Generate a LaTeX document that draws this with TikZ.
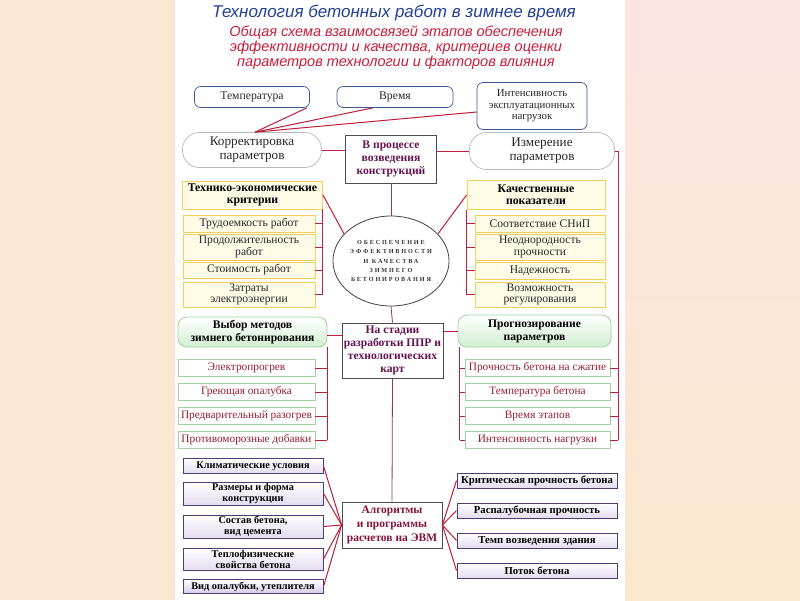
\documentclass[tikz,border=0pt]{standalone}
\usepackage{fontspec}
\setmainfont{Liberation Serif}
\newfontfamily\titlefont{Liberation Sans}
\usetikzlibrary{shapes.geometric,calc}
\definecolor{bgleft}{RGB}{250,231,210}
\definecolor{bgrtop}{RGB}{252,228,226}
\definecolor{bgrbot}{RGB}{250,231,205}
\definecolor{titleblue}{RGB}{35,65,150}
\definecolor{subred}{RGB}{200,30,60}
\definecolor{redline}{RGB}{190,30,60}
\definecolor{midline}{RGB}{140,60,90}
\definecolor{topblue}{RGB}{60,90,155}
\definecolor{hubtext}{RGB}{100,20,80}
\definecolor{algtext}{RGB}{135,20,60}
\definecolor{itemred}{RGB}{150,30,50}
\definecolor{yelborder}{RGB}{238,208,90}
\definecolor{yelfill}{RGB}{255,251,230}
\definecolor{grborder}{RGB}{160,210,160}
\definecolor{grfill}{RGB}{210,238,210}
\definecolor{lavborder}{RGB}{80,60,110}
\definecolor{lavfill}{RGB}{228,220,240}
\definecolor{txt}{RGB}{40,40,40}
\tikzset{
  base/.style={inner sep=0pt, align=center, text=txt, font=\fontsize{11}{12.5}\selectfont},
  topbox/.style={base, draw=topblue, rounded corners=6pt, fill=white, line width=0.7pt, font=\fontsize{11.7}{11.7}\selectfont},
  stadium/.style={base, draw=gray!55, rounded corners=17pt, fill=white, line width=0.7pt, font=\fontsize{13.2}{14}\selectfont},
  hub/.style={base, draw=black!70, fill=white, line width=0.8pt, text=hubtext, font=\bfseries\fontsize{11.6}{13}\selectfont},
  yelhead/.style={base, draw=yelborder, fill=yelfill, line width=0.9pt, text=black, font=\bfseries\fontsize{11.8}{12}\selectfont},
  yelitem/.style={base, draw=yelborder, fill=yelfill, line width=0.9pt, font=\fontsize{11.6}{11.5}\selectfont},
  greenhead/.style={base, draw=grborder, rounded corners=9pt, top color=white, bottom color=grfill, line width=0.8pt, text=black, font=\bfseries\fontsize{11.6}{13}\selectfont},
  greenitem/.style={base, draw=grborder, fill=white, line width=0.8pt, text=itemred, font=\fontsize{11.3}{12}\selectfont},
  lavbox/.style={base, draw=lavborder, top color=white, bottom color=lavfill, line width=1pt, text=black, font=\bfseries\fontsize{10.3}{11}\selectfont},
  link/.style={draw=redline, line width=1pt},
  midlink/.style={draw=midline, line width=0.8pt},
}
\begin{document}
\begin{tikzpicture}[x=1pt,y=-1pt]
\useasboundingbox (0,0) rectangle (800,600);
\fill[bgleft] (0,0) rectangle (175,600);
\fill[white] (175,0) rectangle (625,600);
\shade[top color=bgrtop, bottom color=bgrbot] (625,0) rectangle (800,600);

% titles
\node[inner sep=0pt, text=titleblue, font=\titlefont\itshape\fontsize{17}{17}\selectfont] (title) at (394,13) {Технология бетонных работ в зимнее время};
\node[inner sep=0pt, align=center, text=subred, font=\titlefont\itshape\fontsize{14.5}{15}\selectfont] (sub) at (396,48) {Общая схема взаимосвязей этапов обеспечения\\эффективности и качества, критериев оценки\\параметров технологии и факторов влияния};

% top factors
\node[topbox, minimum width=115pt, minimum height=21pt] (temp) at (252,97) {Температура};
\node[topbox, minimum width=116pt, minimum height=21pt] (vrem) at (395,97) {Время};
\node[topbox, minimum width=110pt, minimum height=47pt, font=\fontsize{10.8}{11.5}\selectfont] (intens) at (532,106) {Интенсивность\\эксплуатационных\\нагрузок};

% second row
\node[stadium, minimum width=139pt, minimum height=35pt] (korr) at (252,150) {Корректировка\\параметров};
\node[hub, minimum width=91pt, minimum height=48pt] (proc) at (391,159) {В процессе\\возведения\\конструкций};
\node[stadium, minimum width=145pt, minimum height=37pt] (izm) at (542,151) {Измерение\\параметров};

% central ellipse
\node[ellipse, draw=black!75, line width=0.8pt, fill=white, minimum width=106pt, minimum height=90pt, inner sep=0pt, align=center, text=black!80, font=\bfseries\fontsize{6.2}{9.3}\selectfont\addfontfeature{LetterSpace=30}] (ell) at (391,261) {ОБЕСПЕЧЕНИЕ\\ЭФФЕКТИВНОСТИ\\И КАЧЕСТВА\\ЗИМНЕГО\\БЕТОНИРОВАНИЯ};

% left yellow
\node[yelhead, minimum width=140pt, minimum height=28pt] (tech) at (252.5,195) {Технико-экономические\\критерии};
\node[yelitem, minimum width=132pt, minimum height=17pt] (t1) at (249,223.5) {Трудоемкость работ};
\node[yelitem, minimum width=132pt, minimum height=26pt] (t2) at (249,247) {Продолжительность\\работ};
\node[yelitem, minimum width=132pt, minimum height=16pt] (t3) at (249,270) {Стоимость работ};
\node[yelitem, minimum width=132pt, minimum height=25pt] (t4) at (249,294.5) {Затраты\\электроэнергии};

% right yellow
\node[yelhead, minimum width=138pt, minimum height=29pt] (kach) at (536,195) {Качественные\\показатели};
\node[yelitem, minimum width=130pt, minimum height=17pt] (k1) at (540,223.5) {Соответствие СНиП};
\node[yelitem, minimum width=130pt, minimum height=26pt] (k2) at (540,247) {Неоднородность\\прочности};
\node[yelitem, minimum width=130pt, minimum height=17pt] (k3) at (540,270.5) {Надежность};
\node[yelitem, minimum width=130pt, minimum height=25pt] (k4) at (540,294.5) {Возможность\\регулирования};

% stage
\node[hub, minimum width=101pt, minimum height=55pt] (stage) at (392.5,350.5) {На стадии\\разработки ППР и\\технологических\\карт};

% left green
\node[greenhead, minimum width=149pt, minimum height=30pt] (vybor) at (252.5,332) {Выбор методов\\зимнего бетонирования};
\node[greenitem, minimum width=137pt, minimum height=17pt] (v1) at (246.5,368) {Электропрогрев};
\node[greenitem, minimum width=137pt, minimum height=17pt] (v2) at (246.5,392) {Греющая опалубка};
\node[greenitem, minimum width=137pt, minimum height=17pt] (v3) at (246.5,416) {Предварительный разогрев};
\node[greenitem, minimum width=137pt, minimum height=17pt] (v4) at (246.5,440) {Противоморозные добавки};

% right green
\node[greenhead, minimum width=153pt, minimum height=32pt] (prog) at (534.5,331) {Прогнозирование\\параметров};
\node[greenitem, minimum width=145pt, minimum height=17pt] (p1) at (537.5,368) {Прочность бетона на сжатие};
\node[greenitem, minimum width=145pt, minimum height=17pt] (p2) at (537.5,392) {Температура бетона};
\node[greenitem, minimum width=145pt, minimum height=17pt] (p3) at (537.5,416) {Время этапов};
\node[greenitem, minimum width=145pt, minimum height=17pt] (p4) at (537.5,440) {Интенсивность нагрузки};

% algorithms
\node[hub, minimum width=100pt, minimum height=46pt, text=algtext, font=\bfseries\fontsize{11.5}{14}\selectfont] (alg) at (392,525) {Алгоритмы\\и программы\\расчетов на ЭВМ};

% bottom left
\node[lavbox, minimum width=140pt, minimum height=15pt] (b1) at (253,466) {Климатические условия};
\node[lavbox, minimum width=140pt, minimum height=23pt] (b2) at (253,493.5) {Размеры и форма\\конструкции};
\node[lavbox, minimum width=140pt, minimum height=23pt] (b3) at (253,526.5) {Состав бетона,\\вид цемента};
\node[lavbox, minimum width=140pt, minimum height=22pt] (b4) at (253,559) {Теплофизические\\свойства бетона};
\node[lavbox, minimum width=140pt, minimum height=14pt, bottom color=lavfill!150] (b5) at (253,586.5) {Вид опалубки, утеплителя};

% bottom right
\node[lavbox, minimum width=160pt, minimum height=15pt, font=\bfseries\fontsize{10.7}{11}\selectfont] (r1) at (537,480.5) {Критическая прочность бетона};
\node[lavbox, minimum width=160pt, minimum height=15pt, font=\bfseries\fontsize{10.7}{11}\selectfont] (r2) at (537,510.5) {Распалубочная прочность};
\node[lavbox, minimum width=160pt, minimum height=15pt, font=\bfseries\fontsize{10.7}{11}\selectfont] (r3) at (537,540.5) {Темп возведения здания};
\node[lavbox, minimum width=160pt, minimum height=15pt, font=\bfseries\fontsize{10.7}{11}\selectfont] (r4) at (537,570.5) {Поток бетона};

\coordinate (rbot) at (618,440);
\coordinate (pbr) at ([xshift=2pt]prog.south west);

% connectors top
\draw[link] ([xshift=3pt]korr.north) -- ([xshift=-3pt]temp.south east);
\draw[link] ([xshift=3pt]korr.north) -- ([xshift=-22pt]vrem.south);
\draw[link] ([xshift=3pt]korr.north) -- ([yshift=-6pt]intens.west);
\draw[link] (korr.east) -- (korr.east -| proc.west);
\draw[link] (izm.west -| proc.east) -- (izm.west);
\draw[link] (izm.east) -| (rbot);
\foreach \n in {p1,p2,p3,p4} \draw[link] (\n.east) -- (\n.east -| rbot);

\draw[midlink] (proc.south) -- (ell.north);
\draw[link] (tech.east) -- (ell.150);
\draw[link] (kach.west) -- (ell.30);
\draw[link] (tech.south east) -- (tech.south east |- t4.east);
\foreach \n in {t1,t2,t3,t4} \draw[link] (\n.east) -- (\n.east -| tech.south east);
\draw[link] (kach.south west) -- (kach.south west |- k4.west);
\foreach \n in {k1,k2,k3,k4} \draw[link] (\n.west) -- (\n.west -| kach.south west);

\draw[midlink] (ell.south) -- (stage.north);
\draw[link] ([yshift=-3pt]vybor.east) -- ([yshift=-3pt]vybor.east -| stage.west);
\draw[link] (vybor.south east) -- (vybor.south east |- v4.east);
\foreach \n in {v1,v2,v3,v4} \draw[link] (\n.east) -- (\n.east -| vybor.south east);
\draw[link] (stage.east |- prog.west) -- (prog.west);
\draw[link] (pbr) -- (pbr |- p4.west);
\foreach \n in {p1,p2,p3,p4} \draw[link] (\n.west) -- (\n.west -| pbr);

\draw[midlink] (stage.south) -- (alg.north);
\foreach \n in {b1,b2,b3,b4,b5} \draw[link] (\n.east) -- (alg.west);
\foreach \n in {r1,r2,r3,r4} \draw[link] (alg.east) -- (\n.west);
\end{tikzpicture}
\end{document}
